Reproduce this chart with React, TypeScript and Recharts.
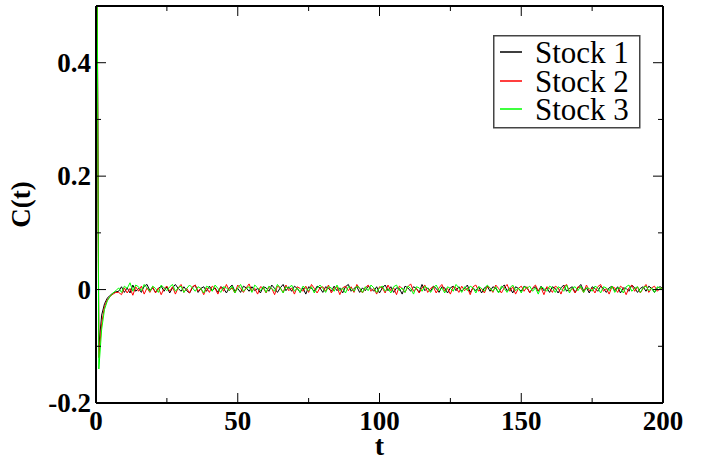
import React from 'react';
import { LineChart, Line, XAxis, YAxis, Legend } from 'recharts';

const stock1: number[] = [
  1, -0.1, -0.045, -0.025, -0.015, -0.01, -0.006, -0.004,
  -0.003, 0.005, -0.005, 0.003, -0.006, 0.008, -0.003, 0.002, -0.005, 0.006, 0.009, -0.002,
  0.003, -0.005, 0.002, 0.006, -0.003, 0.005, -0.006, 0.003, 0.009, 0.002, -0.003, 0.005, -0.002, -0.006, 0.003, 0.008, -0.005, 0.002, 0.005, -0.003,
  0.006, -0.002, 0.003, -0.005, 0.005, 0.002, -0.006, 0.003, 0.008, -0.003, 0.002, -0.005, 0.006, 0.003, -0.003, 0.005, -0.002, 0.002, -0.006, 0.005,
  0.003, -0.003, 0.008, 0.002, -0.005, 0.003, 0.009, -0.002, 0.005, -0.003, 0.006, 0.002, -0.005, 0.003, -0.008, 0.005, 0.002, -0.003, 0.006, 0.003,
  -0.005, 0.005, 0.002, -0.003, 0.006, -0.002, 0.003, -0.006, 0.005, 0.009, -0.003, 0.002, 0.005, -0.005, 0.003, -0.002, 0.006, 0.002, -0.003, 0.005,
  -0.006, 0.003, 0.008, -0.002, 0.005, -0.005, 0.003, 0.002, -0.008, 0.006, 0.003, -0.003, 0.005, 0.002, -0.005, 0.009, -0.002, 0.003, -0.003, 0.006,
  0.002, -0.005, 0.005, 0.003, -0.006, 0.003, 0.006, -0.002, 0.005, -0.003, 0.002, 0.008, -0.005, 0.003, -0.002, 0.005, -0.006, 0.003, 0.006, -0.003,
  0.005, 0.002, -0.005, 0.003, 0.008, -0.002, 0.003, -0.006, 0.005, 0.002, -0.003, 0.006, 0.003, -0.005, 0.002, 0.005, -0.003, 0.006, -0.002, 0.003,
  -0.005, 0.005, 0.002, -0.006, 0.003, 0.008, -0.003, 0.002, 0.005, -0.005, 0.003, 0.009, -0.002, 0.003, -0.006, 0.005, 0.002, -0.003, 0.006, 0.002,
  -0.005, 0.003, 0.006, -0.002, 0.005, -0.006, 0.003, 0.002, -0.003, 0.008, 0.003, -0.005, 0.002, 0.005, -0.003, 0.006, 0.002, -0.005, 0.003, 0.005, 0.002,
];

const stock2: number[] = [
  1, -0.12, -0.06, -0.03, -0.018, -0.012, -0.008, -0.005,
  -0.005, -0.009, 0.003, -0.006, 0.002, -0.01, 0.005, -0.003, 0.006, -0.008, 0.003, -0.005,
  0.005, -0.006, 0.003, -0.009, 0.002, 0.006, -0.003, 0.005, -0.008, 0.003, 0.009, -0.005, 0.002, -0.006, 0.005, 0.008, -0.003, 0.002, -0.009, 0.003,
  -0.005, 0.006, 0.002, -0.008, 0.005, -0.003, 0.009, -0.002, 0.003, -0.006, 0.008, 0.002, -0.005, 0.003, 0.01, -0.003, 0.002, -0.008, 0.005, 0.003,
  -0.006, 0.005, 0.002, -0.009, 0.006, 0.003, -0.005, 0.008, -0.002, 0.003, -0.008, 0.005, 0.002, -0.003, 0.006, -0.005, 0.009, 0.002, -0.006, 0.003,
  0.005, -0.003, 0.008, -0.006, 0.002, 0.005, -0.009, 0.003, 0.006, -0.002, 0.005, -0.005, 0.009, 0.002, -0.006, 0.003, 0.008, -0.003, 0.002, -0.008,
  0.005, 0.003, -0.006, 0.008, -0.002, 0.003, -0.009, 0.006, 0.002, -0.005, 0.005, 0.01, -0.003, 0.002, -0.006, 0.003, 0.008, -0.005, 0.002, 0.005,
  -0.006, 0.003, 0.009, -0.003, 0.002, -0.008, 0.005, 0.003, -0.005, 0.006, -0.002, 0.003, -0.009, 0.005, 0.008, -0.003, 0.002, -0.006, 0.005, 0.003,
  -0.005, 0.008, 0.002, -0.006, 0.003, 0.009, -0.003, 0.005, -0.008, 0.002, 0.006, -0.003, 0.005, -0.006, 0.003, 0.008, -0.002, 0.003, -0.009, 0.005,
  0.002, -0.005, 0.006, 0.003, -0.008, 0.005, 0.009, -0.003, 0.002, -0.006, 0.005, 0.003, -0.005, 0.008, -0.002, 0.003, -0.006, 0.005, 0.009, -0.003,
  0.002, -0.008, 0.005, 0.003, -0.005, 0.006, 0.002, -0.009, 0.003, 0.008, -0.003, 0.005, -0.006, 0.002, 0.009, -0.005, 0.003, 0.006, -0.003, 0.002, 0.003,
];

const stock3: number[] = [
  1, -0.14, -0.07, -0.035, -0.02, -0.012, -0.006, -0.002,
  0.003, -0.005, 0.006, 0.002, 0.012, -0.003, 0.008, 0.005, -0.002, 0.009, 0.003, -0.003,
  0.006, 0.002, -0.005, 0.008, 0.003, -0.002, 0.005, 0.009, -0.003, 0.003, 0.006, -0.005, 0.002, 0.008, 0.003, -0.003, 0.005, 0.002, -0.006, 0.006,
  0.003, -0.003, 0.008, 0.002, -0.005, 0.005, 0.003, -0.002, 0.006, -0.006, 0.003, 0.009, -0.003, 0.002, 0.005, -0.005, 0.008, 0.003, -0.002, 0.005,
  -0.005, 0.006, 0.002, -0.003, 0.009, 0.003, -0.006, 0.005, 0.002, 0.008, -0.003, 0.003, -0.005, 0.006, 0.002, -0.002, 0.005, -0.006, 0.003, 0.008,
  0.002, -0.005, 0.005, 0.003, -0.003, 0.008, -0.002, 0.003, -0.006, 0.005, 0.002, -0.003, 0.006, 0.003, -0.005, 0.005, -0.002, 0.008, 0.003, -0.005,
  0.003, 0.006, -0.003, 0.002, -0.006, 0.005, 0.008, -0.002, 0.003, -0.005, 0.006, 0.002, -0.008, 0.005, 0.003, -0.003, 0.006, 0.002, -0.005, 0.003,
  0.008, -0.002, 0.003, -0.006, 0.005, 0.002, -0.003, 0.009, 0.003, -0.005, 0.005, -0.002, 0.006, 0.003, -0.006, 0.005, 0.002, -0.003, 0.008, 0.003,
  -0.003, 0.005, -0.006, 0.006, 0.002, -0.005, 0.003, 0.008, -0.002, 0.003, -0.006, 0.005, 0.002, 0.006, -0.003, 0.003, -0.008, 0.005, 0.002, -0.003,
  0.006, 0.003, -0.005, 0.005, 0.002, -0.003, 0.008, -0.006, 0.003, 0.005, -0.002, 0.006, -0.005, 0.003, 0.002, -0.003, 0.006, 0.003, -0.006, 0.005,
  0.003, -0.002, 0.006, -0.005, 0.003, 0.002, -0.006, 0.005, 0.008, -0.003, 0.002, 0.005, -0.005, 0.003, 0.006, -0.002, 0.003, -0.005, 0.005, 0.002, 0.003,
];

const tValues: number[] = stock1.map((_, i) => i);

const xTicks: number[] = [0, 25, 50, 75, 100, 125, 150, 175, 200];
const xMajor: number[] = [0, 50, 100, 150, 200];
const yTicks: number[] = [-0.2, -0.1, 0, 0.1, 0.2, 0.3, 0.4];
const yMajor: number[] = [-0.2, 0, 0.2, 0.4];
const yLabels: string[] = ['-0.2', '0', '0.2', '0.4'];

const seriesNames = ['Stock 1', 'Stock 2', 'Stock 3'];
const seriesColors = ['#000000', '#ff0000', '#00ff00'];

const data = tValues.map((t, i) => ({ t, s1: stock1[i], s2: stock2[i], s3: stock3[i] }));

const FONT = '"Liberation Serif", "Times New Roman", Times, "DejaVu Serif", serif';
const boldStyle: React.CSSProperties = { fontFamily: FONT, fontSize: 27, fontWeight: 700 };

const isMajorY = (v: number) => yMajor.some((m) => Math.abs(m - v) < 1e-9);
const labelY = (v: number) => {
  const idx = yMajor.findIndex((m) => Math.abs(m - v) < 1e-9);
  return idx >= 0 ? yLabels[idx] : '';
};

const LeftTick = (props: any) => {
  const { x, y, payload } = props;
  const major = isMajorY(payload.value);
  return (
    <g>
      <line x1={x} x2={x + (major ? 10 : 5)} y1={y} y2={y} stroke="#000" strokeWidth={1} />
      {major && (
        <text x={x - 5} y={y + 9} textAnchor="end" style={boldStyle} fill="#000">
          {labelY(payload.value)}
        </text>
      )}
    </g>
  );
};

const RightTick = (props: any) => {
  const { x, y, payload } = props;
  const major = isMajorY(payload.value);
  return <line x1={x} x2={x - (major ? 10 : 5)} y1={y} y2={y} stroke="#000" strokeWidth={1} />;
};

const BottomTick = (props: any) => {
  const { x, y, payload } = props;
  const major = xMajor.includes(payload.value);
  return (
    <g>
      <line x1={x} x2={x} y1={y} y2={y - (major ? 10 : 5)} stroke="#000" strokeWidth={1} />
      {major && (
        <text x={x} y={y + 27} textAnchor="middle" style={boldStyle} fill="#000">
          {String(payload.value)}
        </text>
      )}
    </g>
  );
};

const TopTick = (props: any) => {
  const { x, y, payload } = props;
  const major = xMajor.includes(payload.value);
  return <line x1={x} x2={x} y1={y} y2={y + (major ? 10 : 5)} stroke="#000" strokeWidth={1} />;
};

const YLabel = (props: any) => {
  const vb = props.viewBox;
  const cx = vb.x - 6;
  const cy = vb.y + vb.height / 2;
  return (
    <text x={cx} y={cy} transform={`rotate(-90 ${cx} ${cy})`} textAnchor="middle" style={boldStyle} fill="#000">
      C(t)
    </text>
  );
};

const XLabel = (props: any) => {
  const vb = props.viewBox;
  return (
    <text x={vb.x + vb.width / 2} y={vb.y + 52} textAnchor="middle" style={{ ...boldStyle, fontSize: 28 }} fill="#000">
      t
    </text>
  );
};

const LegendBox = (props: any) => {
  const payload = props.payload || [];
  return (
    <svg width={148} height={94} style={{ display: 'block' }}>
      <rect x={0.75} y={0.75} width={146} height={92} fill="#fff" stroke="#444" strokeWidth={1.5} />
      {payload.map((e: any, i: number) => {
        const ly = Math.round(17 + i * 28.5);
        const idx = seriesNames.indexOf(e.value);
        const col = seriesColors[idx >= 0 ? idx : i];
        return (
          <g key={i}>
            <rect x={7} y={ly - 0.75} width={22} height={1.5} fill={col} />
            <text x={42} y={28 + i * 28.5} style={{ fontFamily: FONT, fontSize: 31, fontWeight: 400 }} fill="#000">
              {e.value}
            </text>
          </g>
        );
      })}
    </svg>
  );
};

export default function App() {
  return (
    <div style={{ position: 'absolute', left: 0, top: 0, background: '#fff' }}>
      <LineChart width={703} height={460} data={data} margin={{ top: 0, right: 30, bottom: 27, left: 36 }}>
        <XAxis
          xAxisId="bottom"
          dataKey="t"
          type="number"
          domain={[0, 200]}
          ticks={xTicks}
          interval={0}
          orientation="bottom"
          height={30}
          tickSize={0}
          tickMargin={0}
          tickLine={false}
          axisLine={{ stroke: '#000', strokeWidth: 2 }}
          tick={<BottomTick />}
          label={<XLabel />}
          allowDataOverflow
        />
        <XAxis
          xAxisId="top"
          dataKey="t"
          type="number"
          domain={[0, 200]}
          ticks={xTicks}
          interval={0}
          orientation="top"
          height={6}
          tickSize={0}
          tickMargin={0}
          tickLine={false}
          axisLine={{ stroke: '#000', strokeWidth: 2 }}
          tick={<TopTick />}
        />
        <YAxis
          yAxisId="left"
          type="number"
          domain={[-0.2, 0.5]}
          ticks={yTicks}
          interval={0}
          orientation="left"
          width={60}
          tickSize={0}
          tickMargin={0}
          tickLine={false}
          axisLine={{ stroke: '#000', strokeWidth: 2 }}
          tick={<LeftTick />}
          label={<YLabel />}
          allowDataOverflow
        />
        <YAxis
          yAxisId="right"
          type="number"
          domain={[-0.2, 0.5]}
          ticks={yTicks}
          interval={0}
          orientation="right"
          width={10}
          tickSize={0}
          tickMargin={0}
          tickLine={false}
          axisLine={{ stroke: '#000', strokeWidth: 2 }}
          tick={<RightTick />}
          allowDataOverflow
        />
        <Line xAxisId="bottom" yAxisId="left" type="linear" dataKey="s1" name={seriesNames[0]} stroke={seriesColors[0]} strokeWidth={1} dot={false} isAnimationActive={false} />
        <Line xAxisId="bottom" yAxisId="left" type="linear" dataKey="s2" name={seriesNames[1]} stroke={seriesColors[1]} strokeWidth={1} dot={false} isAnimationActive={false} />
        <Line xAxisId="bottom" yAxisId="left" type="linear" dataKey="s3" name={seriesNames[2]} stroke={seriesColors[2]} strokeWidth={1} dot={false} isAnimationActive={false} />
        <Legend
          layout="horizontal"
          verticalAlign="middle"
          align="center"
          content={<LegendBox />}
          wrapperStyle={{ position: 'absolute', left: 493, top: 35, right: 'auto', bottom: 'auto', width: 148, height: 94 }}
        />
      </LineChart>
    </div>
  );
}
